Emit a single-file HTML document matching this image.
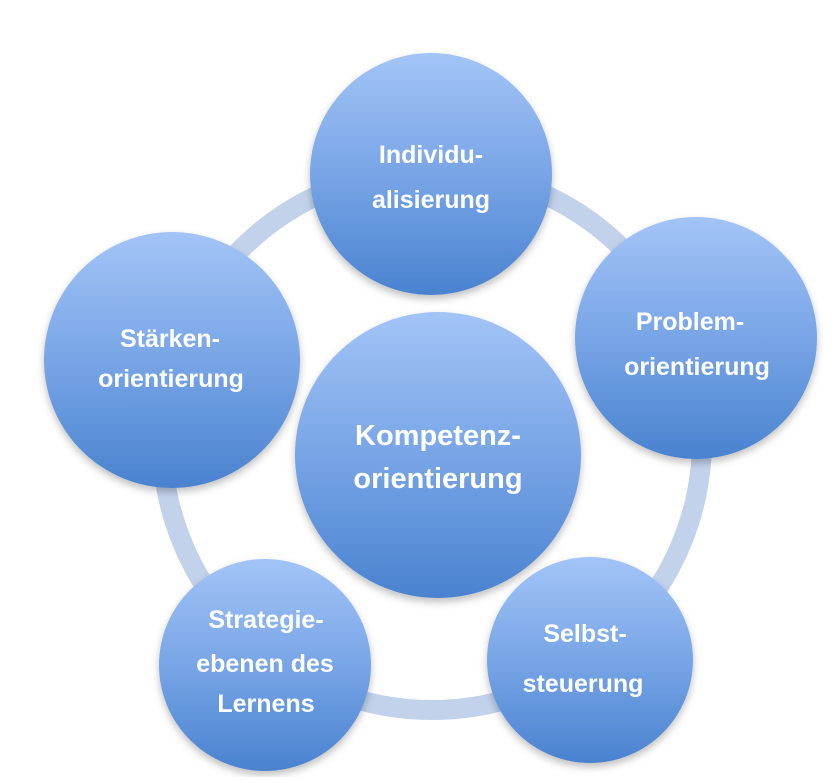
<!DOCTYPE html>
<html><head><meta charset="utf-8"><style>
html,body{margin:0;padding:0;background:#fff;}
svg text{font-family:"Liberation Sans",sans-serif;font-weight:bold;fill:#fff;text-anchor:middle;}
</style></head><body>
<svg width="835" height="777" viewBox="0 0 835 777" xmlns="http://www.w3.org/2000/svg">
<defs>
<linearGradient id="g" x1="0" y1="0" x2="0" y2="1">
<stop offset="0" stop-color="#a3c4f7"/>
<stop offset="0.5" stop-color="#78a5e6"/>
<stop offset="1" stop-color="#4a82d0"/>
</linearGradient>
<filter id="s" x="-20%" y="-20%" width="140%" height="140%">
<feDropShadow dx="0" dy="4" stdDeviation="4" flood-color="#000" flood-opacity="0.25"/>
</filter>
</defs>
<circle cx="432" cy="440" r="270" fill="none" stroke="#c3d2eb" stroke-width="20"/>
<g filter="url(#s)" fill="url(#g)">
<circle cx="438" cy="455" r="143"/>
<circle cx="431" cy="174" r="121"/>
<circle cx="696" cy="338" r="121"/>
<circle cx="172" cy="360" r="128"/>
<circle cx="265" cy="665" r="106"/>
<circle cx="590" cy="660" r="103"/>
</g>
<g font-size="25">
<text x="431" y="163">Individu-</text>
<text x="431" y="208">alisierung</text>
<text x="690" y="330">Problem-</text>
<text x="697" y="375">orientierung</text>
<text x="170" y="347">Stärken-</text>
<text x="171" y="387">orientierung</text>
<text x="266" y="628">Strategie-</text>
<text x="265" y="672">ebenen des</text>
<text x="266" y="712">Lernens</text>
<text x="585" y="642">Selbst-</text>
<text x="583" y="692">steuerung</text>
</g>
<g font-size="29">
<text x="438" y="445">Kompetenz-</text>
<text x="438" y="488">orientierung</text>
</g>
</svg>
</body></html>
